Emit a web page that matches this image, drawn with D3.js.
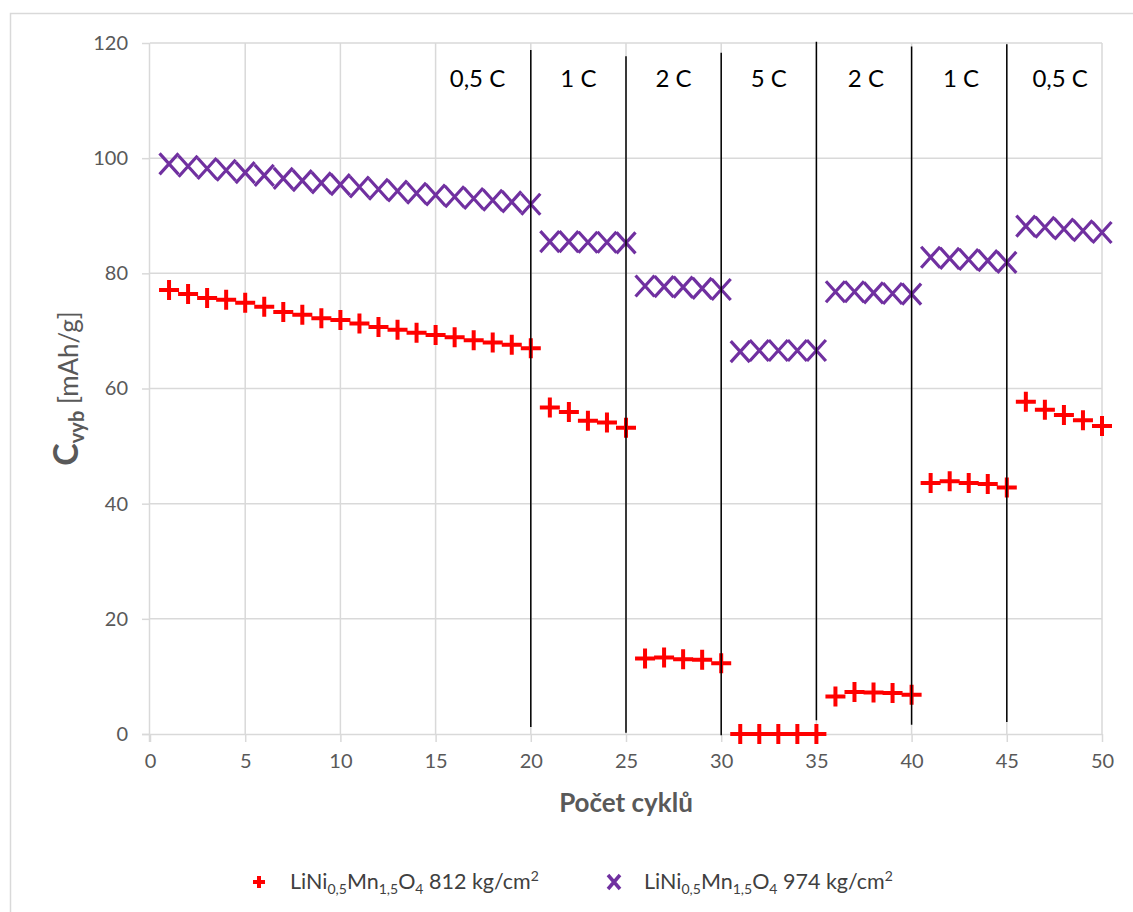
<!DOCTYPE html>
<html>
<head>
<meta charset="utf-8">
<script src="https://cdn.jsdelivr.net/npm/d3@7"></script>
<style>
  html, body { margin: 0; padding: 0; background: #ffffff; }
  svg { display: block; }
</style>
</head>
<body>
<svg id="chart" width="1133" height="912"></svg>
<script>
// Cycle numbers
const cycles = [1,2,3,4,5,6,7,8,9,10,11,12,13,14,15,16,17,18,19,20,
                21,22,23,24,25,26,27,28,29,30,31,32,33,34,35,36,37,38,39,40,
                41,42,43,44,45,46,47,48,49,50];

// Discharge capacity, LiNi0,5Mn1,5O4 pressed at 812 kg/cm2 [mAh/g]
const cap812 = [77.1,76.4,75.7,75.4,74.9,74.2,73.3,72.8,72.2,71.9,
                71.3,70.7,70.2,69.7,69.3,68.9,68.4,68.0,67.6,67.0,
                56.7,55.9,54.4,54.1,53.2,
                13.1,13.3,13.0,12.9,12.3,
                0,0,0,0,0,
                6.5,7.3,7.2,7.1,6.8,
                43.6,43.9,43.6,43.4,42.8,
                57.7,56.3,55.4,54.5,53.5];

// Discharge capacity, LiNi0,5Mn1,5O4 pressed at 974 kg/cm2 [mAh/g]
const cap974 = [99.0,98.6,98.2,97.9,97.5,97.0,96.5,96.1,95.7,95.4,
                95.0,94.6,94.3,93.9,93.6,93.3,93.0,92.7,92.4,92.0,
                85.5,85.5,85.4,85.4,85.3,
                77.8,77.7,77.6,77.4,77.2,
                66.4,66.6,66.6,66.6,66.6,
                76.8,76.8,76.6,76.5,76.4,
                82.8,82.6,82.4,82.2,81.9,
                88.2,88.0,87.7,87.4,87.1];

// C-rate step boundaries (cycle) and the value span of each divider line
const stepAt     = [20, 25, 30, 35, 40, 45];
const stepTop    = [118.8, 117.7, 118.3, 120.2, 119.4, 119.8];
const stepBottom = [1.2, 0.2, -0.2, 2.4, 1.6, 2.1];

// C-rate labels and their positions (cycle)
const rateLabels = ["0,5 C", "1 C", "2 C", "5 C", "2 C", "1 C", "0,5 C"];
const rateAt     = [17.2, 22.5, 27.5, 32.5, 37.6, 42.6, 47.8];
const rateLabelY = 112.3;

// Axis ticks
const xTicks = [0, 5, 10, 15, 20, 25, 30, 35, 40, 45, 50];
const yTicks = [0, 20, 40, 60, 80, 100, 120];

const svg = d3.select("#chart");
const W = 1133, H = 912;
const plot = { left: 150, right: 1102, top: 43, bottom: 734 };

const x = d3.scaleLinear().domain([0, 50]).range([plot.left, plot.right]);
const y = d3.scaleLinear().domain([0, 120]).range([plot.bottom, plot.top]);

const gridColor = "#d9d9d9";
const textColor = "#595959";
const font = "Lato, 'Open Sans', sans-serif";

// Chart frame
svg.append("rect")
  .attr("x", 10.5).attr("y", 13.5)
  .attr("width", W + 20).attr("height", H + 20)
  .attr("fill", "#ffffff")
  .attr("stroke", gridColor).attr("stroke-width", 1.5);

// Gridlines
const grid = svg.append("g");
grid.selectAll("line.h").data(yTicks.filter(d => d > 0)).join("line")
  .attr("x1", plot.left).attr("x2", plot.right)
  .attr("y1", d => y(d)).attr("y2", d => y(d))
  .attr("stroke", gridColor).attr("stroke-width", 1.5);
grid.selectAll("line.v").data(xTicks.filter(d => d > 0)).join("line")
  .attr("x1", d => x(d)).attr("x2", d => x(d))
  .attr("y1", plot.top).attr("y2", plot.bottom)
  .attr("stroke", gridColor).attr("stroke-width", 1.5);

// Axes
const xAxis = svg.append("g")
  .attr("transform", `translate(0,${plot.bottom})`)
  .call(d3.axisBottom(x).tickValues(xTicks).tickSize(8).tickPadding(12).tickFormat(d3.format("d")));
const yAxis = svg.append("g")
  .attr("transform", `translate(${plot.left},0)`)
  .call(d3.axisLeft(y).tickValues(yTicks).tickSize(8).tickPadding(14).tickFormat(d3.format("d")));

[xAxis, yAxis].forEach(g => {
  g.select(".domain").attr("stroke", gridColor).attr("stroke-width", 1.5);
  g.selectAll(".tick line").attr("stroke", gridColor).attr("stroke-width", 1.5);
  g.selectAll(".tick text")
    .attr("fill", textColor)
    .style("font-family", font)
    .style("font-size", "20px");
});
xAxis.select(".domain").attr("d", `M${plot.left - 8},0.5H${plot.right}`);
yAxis.select(".domain").attr("d", `M-0.5,${plot.top}V${plot.bottom + 8}`);

// Series markers
const plusPath = s => `M${-s},0H${s}M0,${-s}V${s}`;
const crossPath = (sx, sy) => `M${-sx},${-sy}L${sx},${sy}M${-sx},${sy}L${sx},${-sy}`;

const series974 = cycles.map((c, i) => ({ c, v: cap974[i] }));
const series812 = cycles.map((c, i) => ({ c, v: cap812[i] }));

svg.append("g").selectAll("path").data(series974).join("path")
  .attr("transform", d => `translate(${x(d.c)},${y(d.v)})`)
  .attr("d", crossPath(9.5, 10.5))
  .attr("fill", "none")
  .attr("stroke", "#7030a0")
  .attr("stroke-width", 3.2);

svg.append("g").selectAll("path").data(series812).join("path")
  .attr("transform", d => `translate(${x(d.c)},${y(d.v)})`)
  .attr("d", plusPath(10))
  .attr("fill", "none")
  .attr("stroke", "#ff0000")
  .attr("stroke-width", 4);

// C-rate step dividers
svg.append("g").selectAll("line").data(stepAt).join("line")
  .attr("x1", d => x(d)).attr("x2", d => x(d))
  .attr("y1", (d, i) => y(stepTop[i])).attr("y2", (d, i) => y(stepBottom[i]))
  .attr("stroke", "#000000").attr("stroke-width", 1.5);

// C-rate labels
svg.append("g").selectAll("text").data(rateLabels).join("text")
  .attr("x", (d, i) => x(rateAt[i]))
  .attr("y", y(rateLabelY))
  .attr("text-anchor", "middle")
  .attr("fill", "#000000")
  .style("font-family", font)
  .style("font-size", "24px")
  .text(d => d);

// X axis title
svg.append("text")
  .attr("x", (plot.left + plot.right) / 2)
  .attr("y", 812)
  .attr("text-anchor", "middle")
  .attr("fill", textColor)
  .style("font-family", font)
  .style("font-size", "26px")
  .style("font-weight", "bold")
  .text("Počet cyklů");

// Y axis title
const yTitle = svg.append("text")
  .attr("transform", `translate(78,${(plot.top + plot.bottom) / 2}) rotate(-90)`)
  .attr("text-anchor", "middle")
  .attr("fill", textColor)
  .style("font-family", font);
yTitle.append("tspan").style("font-size", "34px").style("font-weight", "bold").text("C");
yTitle.append("tspan").style("font-size", "20px").style("font-weight", "bold").attr("dy", 6).text("vyb");
yTitle.append("tspan").style("font-size", "26px").attr("dy", -6).text("\u00a0[mAh/g]");

// Legend
const legendItems = [
  { marker: "plus", color: "#ff0000", mx: 259, tx: 290, pressure: "812 kg/cm" },
  { marker: "cross", color: "#7030a0", mx: 614, tx: 644, pressure: "974 kg/cm" }
];
const legendY = 882;
const legend = svg.append("g");
legendItems.forEach(item => {
  legend.append("path")
    .attr("transform", `translate(${item.mx},${legendY})`)
    .attr("d", item.marker === "plus" ? plusPath(6) : crossPath(6, 7))
    .attr("fill", "none")
    .attr("stroke", item.color)
    .attr("stroke-width", item.marker === "plus" ? 4 : 3.5);
  const t = legend.append("text")
    .attr("x", item.tx).attr("y", legendY + 7)
    .attr("fill", "#404040")
    .style("font-family", font)
    .style("font-size", "21.5px");
  t.append("tspan").text("LiNi");
  t.append("tspan").style("font-size", "14px").attr("dy", 5).text("0,5");
  t.append("tspan").attr("dy", -5).text("Mn");
  t.append("tspan").style("font-size", "14px").attr("dy", 5).text("1,5");
  t.append("tspan").attr("dy", -5).text("O");
  t.append("tspan").style("font-size", "14px").attr("dy", 5).text("4");
  t.append("tspan").attr("dy", -5).text(" " + item.pressure);
  t.append("tspan").style("font-size", "14px").attr("dy", -8).text("2");
});
</script>
</body>
</html>
